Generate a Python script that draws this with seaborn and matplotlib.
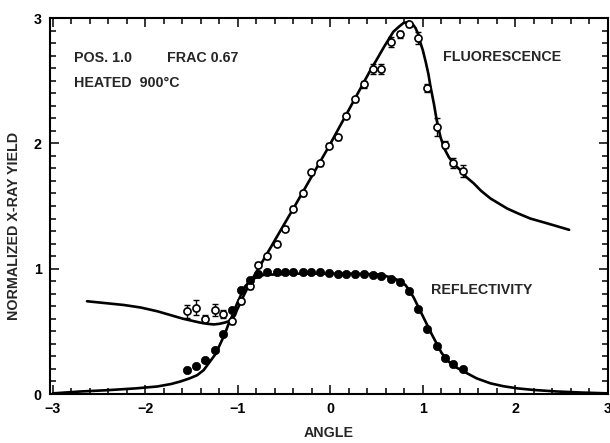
import numpy as np
import pandas as pd
import matplotlib
matplotlib.use("Agg")
import matplotlib.pyplot as plt
import seaborn as sns
from matplotlib.ticker import MultipleLocator


#--------------------Data-------------------------------------------
angle = [-1.55, -1.45, -1.35, -1.25, -1.16, -1.06, -0.97, -0.87, -0.78, -0.68,
         -0.58, -0.49, -0.40, -0.30, -0.21, -0.11, -0.02, 0.08, 0.17, 0.27,
         0.36, 0.46, 0.55, 0.65, 0.75, 0.85, 0.95, 1.04, 1.15, 1.24, 1.33, 1.43]

fluor_yield = [0.66, 0.69, 0.60, 0.67, 0.64, 0.58, 0.74, 0.86, 1.03, 1.10,
               1.20, 1.32, 1.48, 1.60, 1.77, 1.84, 1.98, 2.05, 2.22, 2.35,
               2.47, 2.59, 2.59, 2.81, 2.87, 2.95, 2.84, 2.44, 2.13, 1.99, 1.84, 1.78]
fluor_err = [0.05, 0.06, 0.03, 0.05, 0.03, 0.02, 0.02, 0.02, 0.02, 0.02,
             0.02, 0.02, 0.02, 0.02, 0.02, 0.02, 0.02, 0.02, 0.02, 0.02,
             0.03, 0.04, 0.04, 0.04, 0.03, 0.02, 0.05, 0.03, 0.07, 0.03, 0.04, 0.05]

refl_yield = [0.19, 0.22, 0.27, 0.35, 0.48, 0.67, 0.83, 0.91, 0.96, 0.97,
              0.97, 0.97, 0.97, 0.97, 0.97, 0.97, 0.965, 0.96, 0.96, 0.955,
              0.955, 0.95, 0.94, 0.92, 0.89, 0.82, 0.68, 0.52, 0.385, 0.29, 0.24, 0.20]

# theory curves
fluor_fit_x = [-2.63, -2.43, -2.23, -2.05, -1.87, -1.73, -1.59, -1.50, -1.41, -1.33,
               -1.26, -1.20, -1.14, -1.10, -1.06, -1.03, -1.01, -0.97, -0.94, -0.90,
               -0.85, -0.40, -0.02, 0.43, 0.51, 0.58, 0.63, 0.68, 0.74, 0.79,
               0.85, 0.89, 0.92, 0.95, 0.97, 1.00, 1.03, 1.06, 1.08, 1.12,
               1.15, 1.19, 1.23, 1.28, 1.34, 1.40, 1.47, 1.55, 1.63, 1.73,
               1.82, 1.91, 2.03, 2.16, 2.35, 2.58]
fluor_fit_y = [0.74, 0.725, 0.71, 0.69, 0.66, 0.63, 0.60, 0.585, 0.57, 0.56,
               0.555, 0.56, 0.57, 0.58, 0.60, 0.63, 0.67, 0.73, 0.78, 0.84,
               0.91, 1.48, 1.97, 2.58, 2.68, 2.77, 2.83, 2.89, 2.93, 2.96,
               2.97, 2.95, 2.92, 2.87, 2.81, 2.74, 2.65, 2.55, 2.46, 2.31,
               2.18, 2.05, 1.96, 1.89, 1.83, 1.79, 1.73, 1.68, 1.62, 1.56,
               1.52, 1.48, 1.44, 1.40, 1.36, 1.31]

refl_fit_x = [-3.00, -2.70, -2.42, -2.10, -1.87, -1.72, -1.62, -1.52, -1.44, -1.37,
              -1.30, -1.24, -1.19, -1.14, -1.10, -1.05, -1.01, -0.96, -0.92, -0.87,
              -0.83, -0.77, -0.72, -0.40, 0.20, 0.50, 0.58, 0.65, 0.71, 0.76,
              0.81, 0.85, 0.90, 0.94, 0.99, 1.04, 1.10, 1.15, 1.20, 1.26,
              1.34, 1.44, 1.58, 1.73, 1.87, 2.02, 2.20, 2.45, 2.70, 3.00]
refl_fit_y = [0.005, 0.02, 0.03, 0.045, 0.06, 0.08, 0.10, 0.125, 0.15, 0.19,
              0.26, 0.32, 0.40, 0.48, 0.56, 0.64, 0.72, 0.80, 0.86, 0.90,
              0.92, 0.94, 0.95, 0.96, 0.96, 0.955, 0.945, 0.93, 0.915, 0.90,
              0.87, 0.83, 0.77, 0.71, 0.635, 0.56, 0.47, 0.40, 0.33, 0.27,
              0.22, 0.18, 0.125, 0.085, 0.062, 0.045, 0.032, 0.02, 0.012, 0.005]

points = pd.DataFrame({"angle": angle, "fluor": fluor_yield, "err": fluor_err, "refl": refl_yield})
fluor_fit = pd.DataFrame({"angle": fluor_fit_x, "yield": fluor_fit_y})
refl_fit = pd.DataFrame({"angle": refl_fit_x, "yield": refl_fit_y})


#---------------------Creating graph------------------------
sns.set_style("ticks")
plt.rcParams["font.family"] = ["Liberation Sans", "DejaVu Sans"]
plt.rcParams["font.size"] = 10.3
plt.rcParams["font.weight"] = "bold"
plt.rcParams["axes.labelweight"] = "bold"

fig = plt.figure(figsize=(6.1, 4.43), dpi=100)
ax = fig.add_axes([50 / 610, 1 - 394 / 443, 558 / 610, 376 / 443])

sns.lineplot(data=fluor_fit, x="angle", y="yield", sort=False, estimator=None,
             color="black", linewidth=1.9, ax=ax)
sns.lineplot(data=refl_fit, x="angle", y="yield", sort=False, estimator=None,
             color="black", linewidth=1.9, ax=ax)

ax.errorbar(points["angle"], points["fluor"], yerr=points["err"], fmt="none",
            ecolor="black", elinewidth=1.0, capsize=2.5, capthick=1.0, zorder=3)
sns.scatterplot(data=points, x="angle", y="fluor", marker="o", s=26,
                facecolor="white", edgecolor="black", linewidth=1.2, zorder=4, ax=ax)
sns.scatterplot(data=points, x="angle", y="refl", marker="o", s=36,
                color="black", edgecolor="black", linewidth=0.5, zorder=4, ax=ax)

ax.set_xlim(-3.03, 3.0)
ax.set_ylim(0, 3)
ax.xaxis.set_major_locator(MultipleLocator(1))
ax.xaxis.set_minor_locator(MultipleLocator(0.2))
ax.yaxis.set_major_locator(MultipleLocator(1))
ax.yaxis.set_minor_locator(MultipleLocator(0.1))
ax.tick_params(which="both", direction="in", top=True, right=True, width=1.1, colors="black")
ax.tick_params(which="major", length=6.5, pad=6)
ax.tick_params(which="minor", length=4.3)
for s in ax.spines.values():
    s.set_linewidth(1.5)
    s.set_color("black")

ax.set_xlabel("ANGLE", labelpad=7)
ax.set_ylabel("NORMALIZED X-RAY YIELD")
ax.yaxis.set_label_coords(-0.052, 0.447)

ax.text(-2.77, 2.68, "POS. 1.0", va="center")
ax.text(-1.77, 2.68, "FRAC 0.67", va="center")
ax.text(-2.77, 2.48, "HEATED  900°C", va="center")
ax.text(1.22, 2.69, "FLUORESCENCE", va="center")
ax.text(1.09, 0.83, "REFLECTIVITY", va="center")

fig.savefig("out.png", dpi=100)
